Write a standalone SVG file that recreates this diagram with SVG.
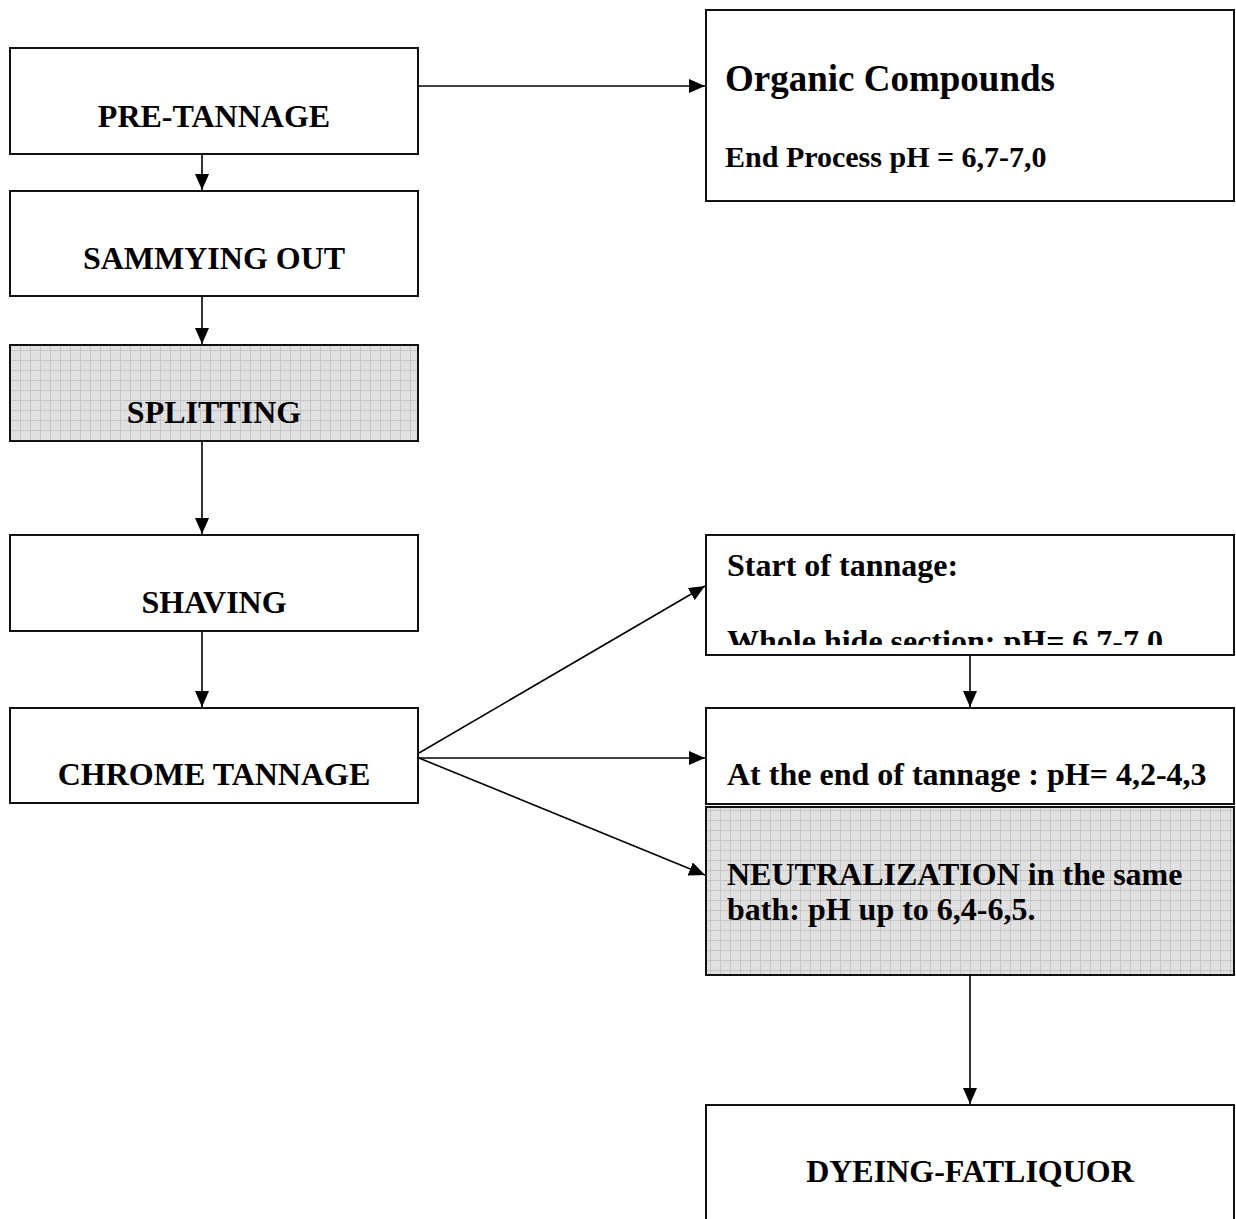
<svg xmlns="http://www.w3.org/2000/svg" width="1236" height="1219" viewBox="0 0 1236 1219">
<style>
.box{fill:#fff;stroke:#111;stroke-width:2}
.gbox{fill:none;stroke:#111;stroke-width:2}
.t{font-family:"Liberation Serif","Times New Roman",serif;font-weight:bold;font-size:32px;fill:#000}
.c{text-anchor:middle}
.ln{stroke:#000;stroke-width:1.6;fill:none;marker-end:url(#ah)}
</style>
<defs>
<marker id="ah" markerUnits="userSpaceOnUse" markerWidth="16" markerHeight="14" refX="16" refY="7" orient="auto">
<path d="M0 0L16 7L0 14Z" fill="#000"/>
</marker>
<pattern id="dots" width="2" height="2" patternUnits="userSpaceOnUse">
<rect width="2" height="2" fill="#e6e6e6"/>
<rect width="1" height="1" fill="#d9d9d9"/>
<rect x="1" y="1" width="1" height="1" fill="#dcdcdc"/>
</pattern>
<pattern id="grid" width="10" height="10" patternUnits="userSpaceOnUse">
<path d="M0 0.5H10M0.5 0V10" stroke="#c6c6c6" stroke-width="1"/>
</pattern>
<clipPath id="clipStart"><rect x="706" y="535" width="528" height="110"/></clipPath>
</defs>

<g id="connectors">
<line class="ln" x1="202" y1="155" x2="202" y2="190"/>
<line class="ln" x1="202" y1="297" x2="202" y2="344"/>
<line class="ln" x1="202" y1="442" x2="202" y2="534"/>
<line class="ln" x1="202" y1="632" x2="202" y2="707"/>
<line class="ln" x1="419" y1="86" x2="705" y2="86"/>
<line class="ln" x1="419" y1="753" x2="705" y2="586"/>
<line class="ln" x1="419" y1="758" x2="705" y2="758"/>
<line class="ln" x1="419" y1="758" x2="705" y2="875"/>
<line class="ln" x1="970" y1="656" x2="970" y2="707"/>
<line class="ln" x1="970" y1="976" x2="970" y2="1104"/>
</g>

<g id="pre-tannage">
<rect class="box" x="10" y="48" width="408" height="106"/>
<text class="t c" x="214" y="127">PRE-TANNAGE</text>
</g>

<g id="sammying-out">
<rect class="box" x="10" y="191" width="408" height="105"/>
<text class="t c" x="214" y="269">SAMMYING OUT</text>
</g>

<g id="splitting">
<rect x="10" y="345" width="408" height="96" fill="url(#dots)"/>
<rect x="10" y="345" width="408" height="96" fill="url(#grid)"/>
<rect class="gbox" x="10" y="345" width="408" height="96"/>
<text class="t c" x="214" y="423">SPLITTING</text>
</g>

<g id="shaving">
<rect class="box" x="10" y="535" width="408" height="96"/>
<text class="t c" x="214" y="613">SHAVING</text>
</g>

<g id="chrome-tannage">
<rect class="box" x="10" y="708" width="408" height="95"/>
<text class="t c" x="214" y="785">CHROME TANNAGE</text>
</g>

<g id="organic-compounds">
<rect class="box" x="706" y="10" width="528" height="191"/>
<text class="t" x="725" y="91" style="font-size:37px">Organic Compounds</text>
<text class="t" x="725" y="167" style="font-size:30px">End Process pH = 6,7-7,0</text>
</g>

<g id="start-of-tannage">
<rect class="box" x="706" y="535" width="528" height="120"/>
<text class="t" x="727" y="576">Start of tannage:</text>
<text class="t" x="727" y="652" clip-path="url(#clipStart)">Whole hide section: pH= 6,7-7,0</text>
</g>

<g id="end-of-tannage">
<rect class="box" x="706" y="708" width="528" height="96"/>
<text class="t" x="727" y="785">At the end of tannage : pH= 4,2-4,3</text>
</g>

<g id="neutralization">
<rect x="706" y="807" width="528" height="168" fill="url(#dots)"/>
<rect x="706" y="807" width="528" height="168" fill="url(#grid)"/>
<rect class="gbox" x="706" y="807" width="528" height="168"/>
<text class="t" x="727" y="885">NEUTRALIZATION in the same</text>
<text class="t" x="727" y="920">bath: pH up to 6,4-6,5.</text>
</g>

<g id="dyeing-fatliquor">
<rect class="box" x="706" y="1105" width="528" height="130"/>
<text class="t c" x="970" y="1182">DYEING-FATLIQUOR</text>
</g>
</svg>
